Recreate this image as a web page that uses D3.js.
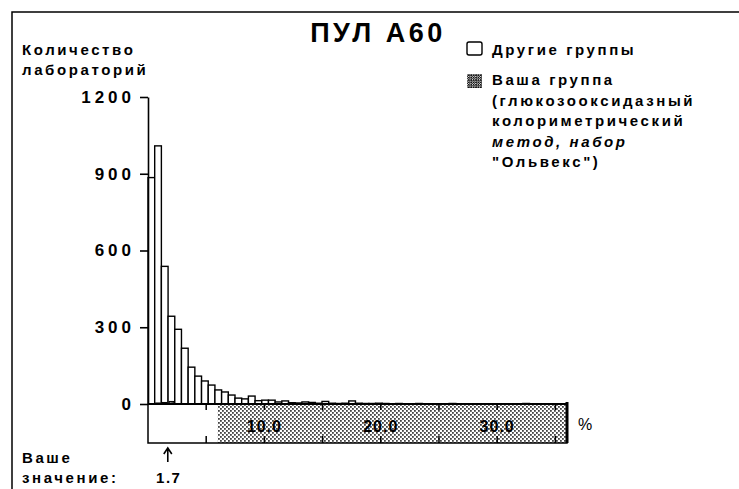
<!DOCTYPE html>
<html>
<head>
<meta charset="utf-8">
<script src="https://cdn.jsdelivr.net/npm/d3@7"></script>
<style>
  body { margin: 0; background: #fff; }
  text { font-family: "Liberation Sans", Arial, sans-serif; fill: #000; }
</style>
</head>
<body>
<script>
// histogram of results, bin width in %
const BIN_WIDTH = 0.575;
const otherGroups = [885, 1009, 538, 343, 292, 218, 144, 109, 90, 74, 55, 47, 35, 23, 20, 31,
  13, 15, 15, 8, 12, 5, 4, 8, 6, 3, 10, 3, 2, 3, 12, 3, 2, 2, 3, 2, 1, 2, 1, 1, 2, 1, 1, 1,
  1, 2, 1, 1, 1, 1, 1, 1, 1, 1, 1, 1, 2, 1];
const yourGroup = [0, 4, 6, 10, 2];
const yTicks = [0, 300, 600, 900, 1200];
const xMinorTicks = [5, 10, 15, 20, 25, 30, 35];
const xLabels = [10, 20, 30];
const X_MAX = 36;
const groupRange = [6.0, 36];
const yourValue = 1.7;
const legendLines = ['Ваша группа', '(глюкозооксидазный', 'колориметрический', 'метод, набор', '"Ольвекс")'];

const width = 739, height = 489;
const x = d3.scaleLinear().domain([0, X_MAX]).range([148, 567]);
const y = d3.scaleLinear().domain([0, 1200]).range([404, 97]);
const boxBottom = 443;

const svg = d3.select('body').append('svg')
  .attr('width', width).attr('height', height);

const defs = svg.append('defs');
function stipple(id, size, r, color) {
  const p = defs.append('pattern').attr('id', id)
    .attr('width', size).attr('height', size).attr('patternUnits', 'userSpaceOnUse');
  p.append('rect').attr('width', size).attr('height', size).attr('fill', '#fff');
  p.append('rect').attr('x', 0).attr('y', 0).attr('width', r).attr('height', r).attr('fill', color);
  p.append('rect').attr('x', size / 2).attr('y', size / 2).attr('width', r).attr('height', r).attr('fill', color);
}
stipple('dots', 4, 1.8, '#444');
stipple('dotsDark', 2.4, 1.6, '#111');

// outer frame
svg.append('path').attr('d', `M12,${height} L12,12 L${width},12`)
  .attr('fill', 'none').attr('stroke', '#000').attr('stroke-width', 1.5);

// title
svg.append('text').attr('x', 378).attr('y', 42).attr('text-anchor', 'middle')
  .style('font-size', '27px').style('font-weight', 'bold').style('letter-spacing', '3.5px')
  .text('ПУЛ А60');

// y axis title
const labelStyle = s => s.style('font-size', '15px').style('font-weight', 'bold').style('letter-spacing', '2.6px');
svg.append('text').attr('x', 22).attr('y', 55).call(labelStyle).text('Количество');
svg.append('text').attr('x', 22).attr('y', 75).call(labelStyle).text('лабораторий');

// box under the axis
svg.append('rect').attr('x', x(0)).attr('y', y(0)).attr('width', x(X_MAX) - x(0))
  .attr('height', boxBottom - y(0)).attr('fill', '#fff');
svg.append('rect').attr('x', x(groupRange[0])).attr('y', y(0))
  .attr('width', x(groupRange[1]) - x(groupRange[0])).attr('height', boxBottom - y(0))
  .attr('fill', 'url(#dots)');
svg.append('path')
  .attr('d', `M${x(0)},${y(0)} L${x(0)},${boxBottom} L${x(X_MAX)},${boxBottom} L${x(X_MAX)},${y(0) - 2}`)
  .attr('fill', 'none').attr('stroke', '#000').attr('stroke-width', 1.5);
svg.append('path')
  .attr('d', `M${x(X_MAX)},${y(0) - 2} L${x(X_MAX)},${boxBottom}`)
  .attr('stroke', '#000').attr('stroke-width', 3);

// ticks on both edges of the box
svg.append('g').selectAll('path').data(xMinorTicks).join('path')
  .attr('d', d => `M${x(d)},${y(0)} L${x(d)},${y(0) + 6} M${x(d)},${boxBottom} L${x(d)},${boxBottom - 7}`)
  .attr('stroke', '#000').attr('stroke-width', 1.5);

svg.append('g').selectAll('text').data(xLabels).join('text')
  .attr('x', d => x(d)).attr('y', 432).attr('text-anchor', 'middle')
  .style('font-size', '16px').style('font-weight', 'bold').style('letter-spacing', '1px')
  .text(d => d.toFixed(1));
svg.append('text').attr('x', 578).attr('y', 430)
  .style('font-size', '16px').text('%');

// bars: other groups
svg.append('g').selectAll('rect').data(otherGroups).join('rect')
  .attr('x', (d, i) => x(i * BIN_WIDTH))
  .attr('y', d => y(d))
  .attr('width', x(BIN_WIDTH) - x(0))
  .attr('height', d => y(0) - y(d))
  .attr('fill', '#fff').attr('stroke', '#000').attr('stroke-width', 1.4);

// bars: your group
svg.append('g').selectAll('rect').data(yourGroup).join('rect')
  .attr('x', (d, i) => x(i * BIN_WIDTH) + 1)
  .attr('y', d => y(d))
  .attr('width', x(BIN_WIDTH) - x(0) - 2)
  .attr('height', d => y(0) - y(d))
  .attr('fill', 'url(#dotsDark)').attr('stroke', '#000').attr('stroke-width', d => d ? 1 : 0);

// baseline
svg.append('line').attr('x1', x(0)).attr('x2', x(X_MAX)).attr('y1', y(0)).attr('y2', y(0))
  .attr('stroke', '#000').attr('stroke-width', 2.2);

// y axis
const yAxis = svg.append('g').attr('transform', `translate(${x(0)},0)`)
  .call(d3.axisLeft(y).tickValues(yTicks).tickFormat(d3.format('d'))
    .tickSize(8).tickPadding(9).tickSizeOuter(0));
yAxis.select('.domain').attr('stroke-width', 1.6);
yAxis.selectAll('.tick line').attr('stroke-width', 1.6);
yAxis.selectAll('.tick text')
  .style('font-family', '"Liberation Sans", Arial, sans-serif')
  .style('font-size', '17px').style('font-weight', 'bold').style('letter-spacing', '4px')
  .attr('dx', '4px');

// your value
svg.append('path')
  .attr('d', `M${x(yourValue)},462 L${x(yourValue)},449 M${x(yourValue) - 4},454 L${x(yourValue)},448 L${x(yourValue) + 4},454`)
  .attr('fill', 'none').attr('stroke', '#000').attr('stroke-width', 1.6);
svg.append('text').attr('x', x(yourValue) + 1).attr('y', 483).attr('text-anchor', 'middle')
  .style('font-size', '15px').style('font-weight', 'bold').style('letter-spacing', '1.5px')
  .text(yourValue.toFixed(1));
svg.append('text').attr('x', 22).attr('y', 463).call(labelStyle).text('Ваше');
svg.append('text').attr('x', 22).attr('y', 483).call(labelStyle).text('значение:');

// legend
const legend = svg.append('g');
legend.append('rect').attr('x', 467).attr('y', 42).attr('width', 15).attr('height', 13).attr('rx', 2)
  .attr('fill', '#fff').attr('stroke', '#000').attr('stroke-width', 1.4);
legend.append('text').attr('x', 492).attr('y', 55).call(labelStyle).text('Другие группы');
legend.append('rect').attr('x', 467).attr('y', 74).attr('width', 15).attr('height', 14)
  .attr('fill', 'url(#dotsDark)');
legend.selectAll('text.l2').data(legendLines).join('text').attr('class', 'l2')
  .attr('x', 492).attr('y', (d, i) => 85 + i * 20.5)
  .call(labelStyle)
  .style('font-style', (d, i) => i === 3 ? 'italic' : 'normal')
  .text(d => d);
</script>
</body>
</html>
